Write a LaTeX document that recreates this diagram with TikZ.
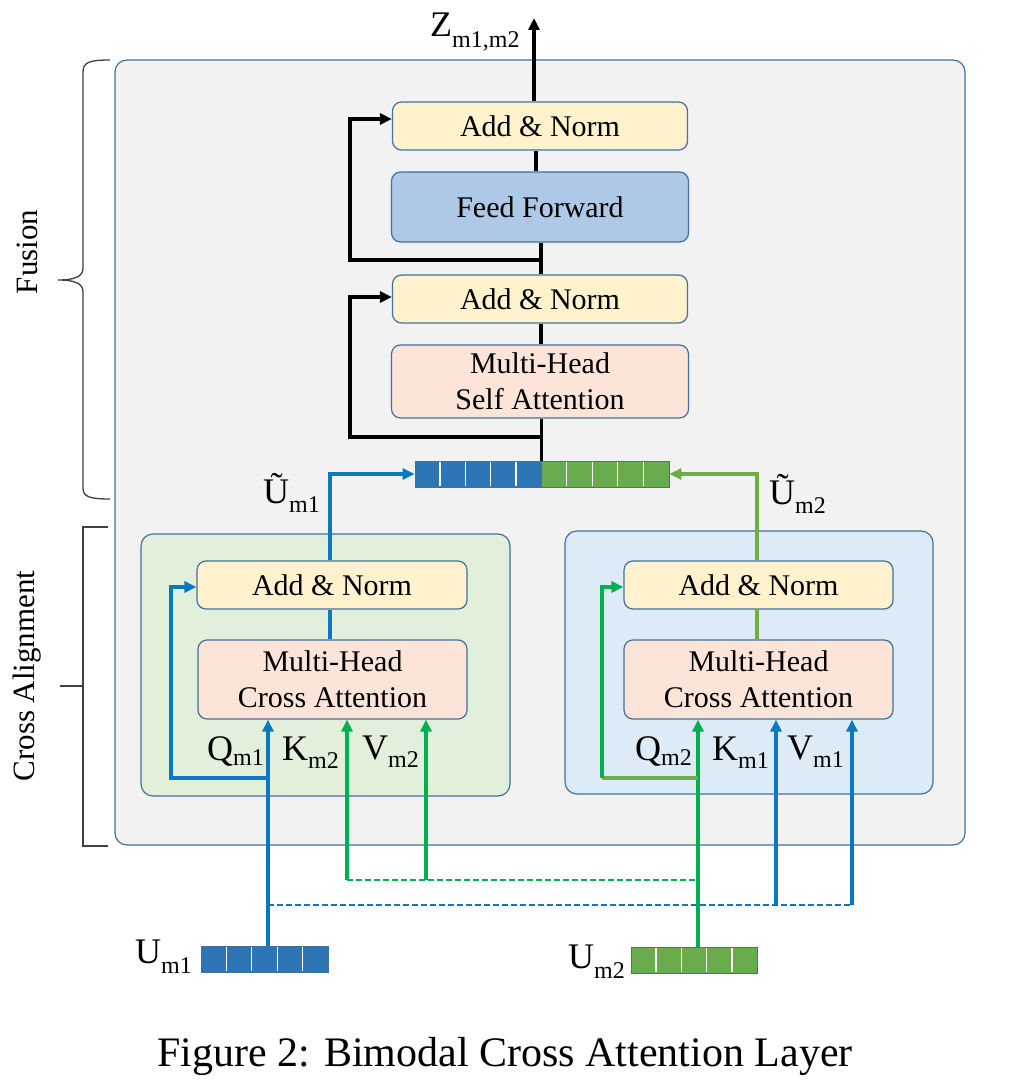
\documentclass[tikz,border=0pt]{standalone}
\usepackage{fontspec}
\usepackage{graphicx}
\setmainfont{Liberation Serif}
\usetikzlibrary{arrows.meta,calc}
\definecolor{boxline}{HTML}{41719C}
\definecolor{outerfill}{HTML}{F2F2F2}
\definecolor{anfill}{HTML}{FFF2CC}
\definecolor{fffill}{HTML}{ADC9E7}
\definecolor{mhfill}{HTML}{FDE4D8}
\definecolor{lgreen}{HTML}{E2EFDA}
\definecolor{lblue}{HTML}{DDEBF7}
\definecolor{lineblue}{HTML}{0B78C2}
\definecolor{brgreen}{HTML}{00B050}
\definecolor{olgreen}{HTML}{70AD47}
\definecolor{vblue}{HTML}{2E75B6}
\definecolor{vgreen}{HTML}{6AAB4E}
\definecolor{bracecol}{HTML}{404040}
\newcommand{\sbs}[2][9pt]{\raisebox{-#1}{\fontsize{24}{24}\selectfont #2}}
\begin{document}
\begin{tikzpicture}[x=1pt,y=-1pt,
  box/.style={draw=boxline, line width=1.2pt, rounded corners=9pt, inner sep=0pt,
    font=\fontsize{30}{36}\selectfont, align=center},
  container/.style={draw=boxline, line width=1.2pt, rounded corners=12pt, inner sep=0pt},
  vecb/.style={draw=boxline, line width=0.8pt, inner sep=0pt, minimum height=26pt},
  tip/.style={-{Triangle[length=12pt,width=11pt]}},
  blk/.style={line width=3.5pt, black},
  blkarr/.style={blk, tip},
  blu/.style={line width=4pt, lineblue},
  bluarr/.style={blu, tip},
  grn/.style={line width=4pt, brgreen},
  grnarr/.style={grn, tip},
  olv/.style={line width=4pt, olgreen},
  olvarr/.style={olv, tip},
  grndash/.style={line width=1.6pt, brgreen, dash pattern=on 6pt off 3pt},
  bludash/.style={line width=1.6pt, lineblue, dash pattern=on 6pt off 3pt},
  lbl/.style={font=\fontsize{36}{36}\selectfont, inner sep=0pt, anchor=base west},
  side/.style={font=\fontsize{31}{31}\selectfont, inner sep=0pt, rotate=90},
  brace/.style={line width=1.3pt, bracecol}
]
\useasboundingbox (0,0) rectangle (1011,1091);

% containers
\node[container, fill=outerfill, minimum width=850pt, minimum height=785pt] (outer) at (540,452.5) {};
\node[container, fill=lgreen, minimum width=369pt, minimum height=262pt] (leftbox) at (325.5,665) {};
\node[container, fill=lblue, minimum width=368pt, minimum height=263pt] (rightbox) at (749,662.5) {};

% fusion blocks
\node[box, fill=anfill, minimum width=295pt, minimum height=48pt] (an2) at (540,126) {Add \& Norm};
\node[box, fill=fffill, minimum width=297pt, minimum height=70pt] (ff) at (540,207) {Feed Forward};
\node[box, fill=anfill, minimum width=295pt, minimum height=48pt] (an1) at (540,299) {Add \& Norm};
\node[box, fill=mhfill, minimum width=297pt, minimum height=73pt] (sa) at (540,381.5) {Multi-Head\\Self Attention};

% cross alignment blocks
\node[box, fill=anfill, minimum width=270pt, minimum height=48pt] (lan) at (332,585) {Add \& Norm};
\node[box, fill=mhfill, minimum width=269pt, minimum height=79pt] (lca) at (332.5,679.5) {Multi-Head\\Cross Attention};
\node[box, fill=anfill, minimum width=269pt, minimum height=48pt] (ran) at (758.5,585) {Add \& Norm};
\node[box, fill=mhfill, minimum width=269pt, minimum height=79pt] (rca) at (758.5,679.5) {Multi-Head\\Cross Attention};

% vectors
\node[vecb, fill=vblue, minimum width=126pt] (catb) at (478,474) {};
\node[vecb, fill=vgreen, minimum width=128pt] (catg) at (605,474) {};
\node[vecb, fill=vblue, minimum width=127pt] (um1) at (264.5,959) {};
\node[vecb, fill=vgreen, minimum width=126pt] (um2) at (694,960) {};
\foreach \v in {catb,catg,um1,um2}{
  \foreach \i in {1,...,4}{
    \draw[white, line width=1.2pt] ($(\v.north west)!\i/5!(\v.north east)+(0,1)$) -- ($(\v.south west)!\i/5!(\v.south east)+(0,-1)$);
  }
}

% fusion connectors
\coordinate (j1) at (541,437);
\coordinate (j2) at (541,260);
\coordinate (r1) at (350,297);
\coordinate (r2) at (350,119);
\coordinate (o1) at (536,0);
\coordinate (zout) at (534,18);
\draw[blk] (catb.north east) -- (catb.north east |- sa.south);
\draw[blkarr] (j1) -| (r1) -- (r1 -| an1.west);
\draw[blk] (sa.north -| j1) -- (an1.south -| j1);
\draw[blk] (an1.north -| j2) -- (ff.south -| j2);
\draw[blkarr] (j2) -| (r2) -- (r2 -| an2.west);
\draw[blk] (ff.north -| o1) -- (an2.south -| o1);
\draw[blkarr] (an2.north -| zout) -- (zout);

% dashed distribution lines
\coordinate (q1) at (268,778);
\coordinate (q2) at (698,778);
\coordinate (k1) at (347,880);
\coordinate (v1) at (426,880);
\coordinate (k2) at (776,905);
\coordinate (v2) at (852,905);
\draw[grndash] (k1) -- (k1 -| q2);
\draw[bludash] (q1 |- v2) -- (v2);

% left cross alignment connectors
\coordinate (tl) at (330,474);
\coordinate (rq1) at (171,587);
\draw[bluarr] (lan.north -| tl) |- (catb.west);
\draw[blu] (lca.north -| tl) -- (lan.south -| tl);
\draw[bluarr] (um1.north -| q1) -- (lca.south -| q1);
\draw[bluarr] (q1) -| (rq1) -- (rq1 -| lan.west);
\draw[grnarr] (k1) -- (lca.south -| k1);
\draw[grnarr] (v1) -- (lca.south -| v1);

% right cross alignment connectors
\coordinate (tr) at (757,474);
\coordinate (rq2) at (602,587);
\draw[olvarr] (ran.north -| tr) |- (catg.east);
\draw[olv] (rca.north -| tr) -- (ran.south -| tr);
\draw[bluarr] (k2) -- (rca.south -| k2);
\draw[bluarr] (v2) -- (rca.south -| v2);
\draw[grnarr] (um2.north -| q2) -- (rca.south -| q2);
\draw[olv] (q2) -- (rq2 |- q2);
\draw[grnarr] (rq2 |- q2) -- (rq2) -- (rq2 -| ran.west);

% labels
\node[lbl] (zl) at (430,37) {Z\sbs[11pt]{m1,m2}};
\node[lbl] (ut1) at (263,503) {Ũ\sbs{m1}};
\node[lbl] (ut2) at (769,504) {Ũ\sbs{m2}};
\node[lbl] (ql1) at (207,760) {Q\sbs[5pt]{m1}};
\node[lbl] (kl2) at (282,760) {K\sbs[8pt]{m2}};
\node[lbl] (vl2) at (362,759) {V\sbs[8pt]{m2}};
\node[lbl] (ql2) at (635,760) {Q\sbs[5pt]{m2}};
\node[lbl] (kl1) at (712,760) {K\sbs[8pt]{m1}};
\node[lbl] (vl1) at (787,759) {V\sbs[8pt]{m1}};
\node[lbl] (ul1) at (135,963) {U\sbs[10pt]{m1}};
\node[lbl] (ul2) at (568,968) {U\sbs[10pt]{m2}};

% braces and side labels
\draw[brace] (110,60) .. controls (90,60) and (83,62) .. (83,72) -- (83,268)
  .. controls (83,276) and (76,280) .. (58,280)
  .. controls (76,280) and (83,284) .. (83,292) -- (83,488)
  .. controls (83,497) and (90,499) .. (110,499);
\draw[brace] (108,527) -- (83,527) -- (83,846) -- (108,846);
\draw[brace] (83,686) -- (60,686);
\node[side] (fusionlbl) at (27,252) {Fusion};
\node[side] (crosslbl) at (27,676) {Cross Alignment};

% caption
\node[font=\fontsize{42}{42}\selectfont, inner sep=0pt, anchor=base] (cap) at (505,1066) {Figure 2: Bimodal Cross Attention Layer};
\end{tikzpicture}
\end{document}
